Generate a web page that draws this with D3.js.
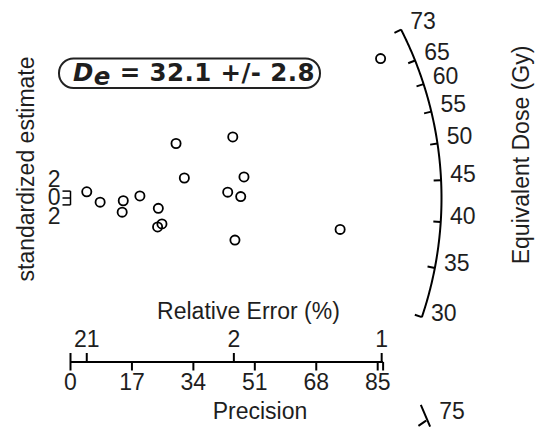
<!DOCTYPE html>
<html>
<head>
<meta charset="utf-8">
<script src="https://d3js.org/d3.v7.min.js"></script>
<style>
  body { margin: 0; background: #fff; }
  text { font-family: "Liberation Sans", Arial, sans-serif; font-size: 23px; fill: #1e1e1e; }
  .lab { font-family: "DejaVu Sans", sans-serif; font-weight: bold; font-size: 24.5px; letter-spacing: 0.4px; }
</style>
</head>
<body>
<svg id="radial" width="549" height="433"></svg>
<script>
// one entry per aliquot: precision (1/rel. error) and standardized estimate
const precision = [4.5, 8.2, 14.6, 14.3, 19.2, 24.3, 24.1, 25.3, 29.2, 31.5, 43.5, 44.9, 47.1, 48.0, 45.5, 74.6, 85.8];
const stdEstimate = [1.8, -1.2, -0.8, -4.1, 0.6, -3.0, -8.4, -7.5, 15.8, 5.8, 1.7, 17.7, 0.4, 6.1, -12.2, -9.1, 40.4];

// axes
const precisionTicks = [0, 17, 34, 51, 68, 85];
const precisionEnd = 86.5;
const relErrorTicks = [4.5, 45.2, 86.1];
const relErrorLabels = ["21", "2", "1"];
const yTicks = [-2, 0, 2];
const yTickLabels = ["2", "0", "2"];

// z axis (equivalent dose, Gy), log scale
const doseTicks = [73, 65, 60, 55, 50, 45, 40, 35, 30];
const doseRange = [30, 73];
const doseCentral = 42.8;   // centre of the arc
const strayTick = 75;       // odd tick drawn below the plot

const deLabel = { value: "32.1", error: "2.8" };

const svg = d3.select("#radial");

const x = d3.scaleLinear().domain([0, 85]).range([70.5, 377.7]);
const y = d3.scaleLinear().domain([-2, 2]).range([204.9, 191.1]);

const kx = x(1) - x(0);
const ky = y(0) - y(1);
const f = ky / kx;
const rPx = 371;
const r = rPx / kx;
const zc = Math.log(doseCentral);

// point on the arc for a dose value (data coords)
function arcPoint(v, scale = 1) {
  const d = Math.log(v) - zc;
  const px = scale * r / Math.sqrt(1 + f * f * d * d);
  return [px, d * px];
}

// arc line
const arcVals = d3.range(0, 201).map(i => doseRange[0] * Math.pow(doseRange[1] / doseRange[0], i / 200));
svg.append("path")
  .attr("d", d3.line().x(v => x(arcPoint(v)[0])).y(v => y(arcPoint(v)[1]))(arcVals))
  .attr("fill", "none").attr("stroke", "#000").attr("stroke-width", 2);

// arc ticks + labels
doseTicks.forEach(v => {
  const p1 = arcPoint(v), p2 = arcPoint(v, 0.98);
  svg.append("line")
    .attr("x1", x(p1[0])).attr("y1", y(p1[1]))
    .attr("x2", x(p2[0])).attr("y2", y(p2[1]))
    .attr("stroke", "#000").attr("stroke-width", 2);
  const ax = x(p1[0]), ay = y(p1[1]);
  const sinT = (y(0) - ay) / rPx;
  svg.append("text")
    .attr("x", ax + 22).attr("y", ay - 6.5 - 6 * sinT + 8.3)
    .attr("text-anchor", "middle")
    .text(v);
});

// stray tick (mirrored below the arc)
{
  const d = Math.log(strayTick) - zc;
  const th = -Math.atan(f * d) * 1.1;
  const ax = x(0) + 1.12 * rPx * Math.cos(th);
  const ay = y(0) - 1.12 * rPx * Math.sin(th);
  svg.append("path")
    .attr("d", `M${ax - 5.9},${ay - 7}L${ax + 3.4},${ay + 14.7}M${ax - 0.6},${ay + 8.7}L${ax - 8.3},${ay + 14}`)
    .attr("fill", "none").attr("stroke", "#000").attr("stroke-width", 2);
  svg.append("text").attr("x", ax + 12.5).attr("y", ay + 7.3).text(strayTick);
}

// bottom axis
const axisY = 362;
svg.append("line")
  .attr("x1", x(0)).attr("x2", x(precisionEnd))
  .attr("y1", axisY).attr("y2", axisY)
  .attr("stroke", "#000").attr("stroke-width", 2);

precisionTicks.concat([precisionEnd]).forEach(v => {
  svg.append("line")
    .attr("x1", x(v)).attr("x2", x(v))
    .attr("y1", axisY).attr("y2", axisY + 8.5)
    .attr("stroke", "#000").attr("stroke-width", 2);
});
svg.selectAll(".ptick").data(precisionTicks).join("text")
  .attr("class", "ptick")
  .attr("x", d => x(d)).attr("y", axisY + 28)
  .attr("text-anchor", "middle")
  .text(d => d);

[0].concat(relErrorTicks).forEach(v => {
  svg.append("line")
    .attr("x1", x(v)).attr("x2", x(v))
    .attr("y1", axisY).attr("y2", axisY - 9)
    .attr("stroke", "#000").attr("stroke-width", 2);
});
svg.selectAll(".rtick").data(relErrorTicks).join("text")
  .attr("class", "rtick")
  .attr("x", d => x(d)).attr("y", axisY - 15)
  .attr("text-anchor", "middle")
  .text((d, i) => relErrorLabels[i]);

svg.append("text").attr("x", 248.5).attr("y", 319.3)
  .attr("text-anchor", "middle").text("Relative Error (%)");
svg.append("text").attr("x", 260).attr("y", 419.3)
  .attr("text-anchor", "middle").text("Precision");

// y axis (standardized estimate)
svg.append("line")
  .attr("x1", x(0)).attr("x2", x(0))
  .attr("y1", y(-2)).attr("y2", y(2))
  .attr("stroke", "#000").attr("stroke-width", 1.5);
yTicks.forEach(v => {
  svg.append("line")
    .attr("x1", x(0)).attr("x2", x(0) - 8)
    .attr("y1", y(v)).attr("y2", y(v))
    .attr("stroke", "#000").attr("stroke-width", 1.5);
});
yTickLabels.forEach((t, i) => {
  svg.append("text")
    .attr("x", x(0) - 10).attr("y", y(0) - 1 + (i - 1) * 18.5 + 8.3)
    .attr("text-anchor", "end").text(t);
});

svg.append("text")
  .attr("transform", "translate(33.5,169) rotate(-90)")
  .attr("text-anchor", "middle").text("standardized estimate");
svg.append("text")
  .attr("transform", "translate(529.3,155) rotate(-90)")
  .attr("text-anchor", "middle").text("Equivalent Dose (Gy)");

// points
svg.selectAll("circle.pt").data(precision).join("circle")
  .attr("class", "pt")
  .attr("cx", d => x(d))
  .attr("cy", (d, i) => y(stdEstimate[i]))
  .attr("r", 4.6)
  .attr("fill", "none").attr("stroke", "#000").attr("stroke-width", 1.8);

// De label in a rounded box
svg.append("rect")
  .attr("x", 59).attr("y", 58.5).attr("width", 261).attr("height", 29.5)
  .attr("rx", 14.5).attr("ry", 14.5)
  .attr("fill", "none").attr("stroke", "#222").attr("stroke-width", 2);
const lab = svg.append("text").attr("class", "lab").attr("x", 73).attr("y", 81);
lab.append("tspan").attr("font-style", "italic").text("D");
lab.append("tspan").attr("font-style", "italic").attr("dy", 4).text("e");
lab.append("tspan").attr("dy", -4).text(` = ${deLabel.value} +/- ${deLabel.error}`);
</script>
</body>
</html>
